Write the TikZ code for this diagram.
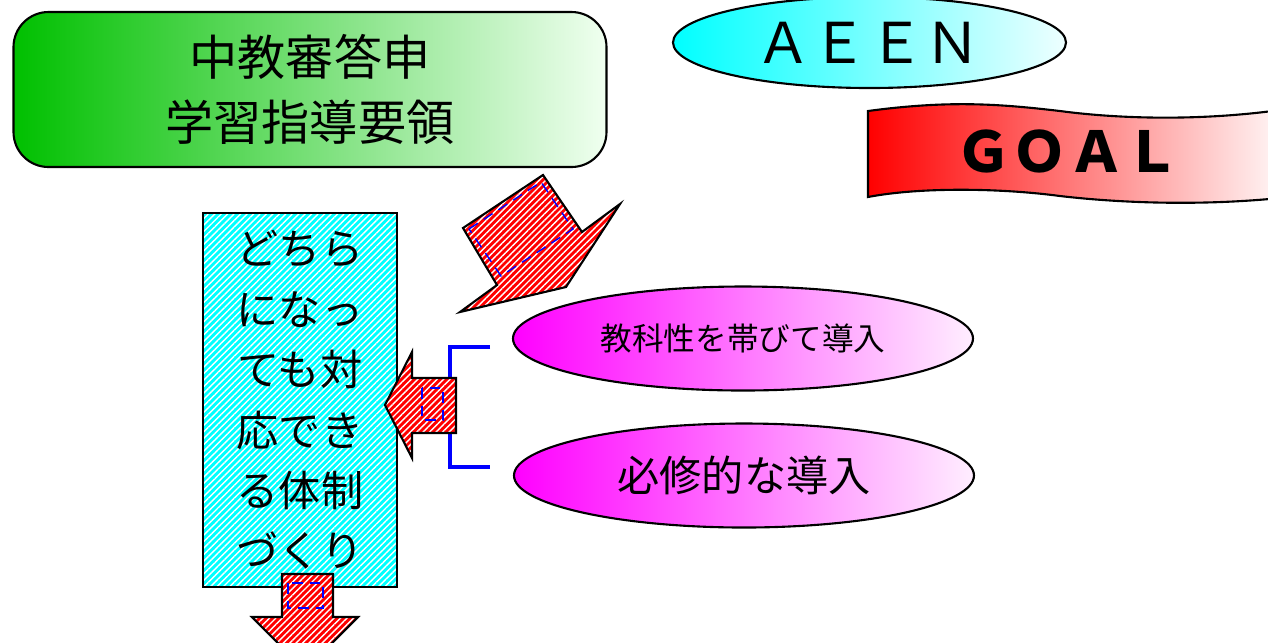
\documentclass[tikz,border=0pt]{standalone}
\usepackage{fontspec}
\newfontfamily\jpfont{Noto Sans CJK JP}
\usepackage{xcolor}
\usetikzlibrary{shapes.geometric, patterns.meta}
\definecolor{leafgreen}{RGB}{0,192,0}
\definecolor{paleleaf}{RGB}{240,255,240}
\definecolor{aqua}{RGB}{0,255,255}
\definecolor{palecyan}{RGB}{238,255,255}
\definecolor{fuchsia}{RGB}{255,0,255}
\definecolor{palepink}{RGB}{255,238,255}
\definecolor{brightred}{RGB}{255,0,0}
\definecolor{palered}{RGB}{255,246,246}
\tikzset{
  redhatch/.style={draw=black, line width=0.6pt, preaction={fill=brightred},
    pattern={Lines[angle=45, distance=1.3pt, line width=0.4pt]}, pattern color=white},
  bluebox/.style={draw=blue, densely dashed, line width=0.4pt},
  pinkegg/.style={ellipse, draw, line width=0.6pt, inner sep=0pt,
    minimum width=46mm, minimum height=10.4mm, left color=fuchsia, right color=palepink}
}

\begin{document}
\begin{tikzpicture}[x=0.1mm, y=-0.1mm]
\useasboundingbox (0,0) rectangle (1268,642);
\clip (0,0) rectangle (1268,642);
\fill[white] (0,0) rectangle (1268,642);

\node[draw, line width=0.6pt, rounded corners=3.5mm, minimum width=59.3mm, minimum height=15.5mm,
  left color=leafgreen, right color=paleleaf, align=center,
  font=\jpfont\fontsize{13.7}{18.5}\selectfont] (report) at (310,89.5) {中教審答申\\学習指導要領};

\node[ellipse, draw, line width=0.6pt, inner sep=0pt, minimum width=39.3mm, minimum height=9.1mm,
  left color=aqua, right color=palecyan] (aeen) at (869.5,42.5) {};
\node[font=\jpfont\fontsize{16}{16}\selectfont] (aeentext) at (868,43) {ＡＥＥＮ};

\shade[left color=brightred, right color=palered, draw=black, line width=0.6pt]
  (868,111) .. controls (950,100) and (1000,104) .. (1060,111)
  .. controls (1120,119) and (1200,121) .. (1280,110) -- (1280,198)
  .. controls (1200,206) and (1120,203) .. (1060,196)
  .. controls (1000,188) and (920,187) .. (868,197) -- cycle;
\node[font=\jpfont\bfseries\fontsize{16}{16}\selectfont] (goal) at (1068,151) {ＧＯＡＬ};

\node[draw, line width=0.6pt, minimum width=19.4mm, minimum height=37.4mm, preaction={fill=aqua},
  pattern={Lines[angle=45, distance=1.3pt, line width=0.4pt]}, pattern color=white,
  align=center, font=\jpfont\fontsize{12}{17.2}\selectfont] (ready) at (300,400)
  {どちら\\になっ\\ても対\\応でき\\る体制\\づくり};

\draw[redhatch] (543,175) -- (582,232) -- (620,204) -- (566,287) -- (460,312) -- (497,285) -- (463,228) -- cycle;
\draw[bluebox] (469,229) -- (541,182) -- (573,229) -- (501,276) -- cycle;

\draw[blue, line width=0.9pt] (490,347) -- (450,347) -- (450,467) -- (490,467);
\draw[redhatch] (456,378) -- (412,378) -- (412,352) -- (385,405) -- (412,458) -- (412,433) -- (456,433) -- cycle;
\draw[bluebox] (422,388) rectangle (443,420);

\draw[redhatch] (282,574) -- (333,574) -- (333,617) -- (358,617) -- (305,670) -- (252,617) -- (282,617) -- cycle;
\draw[bluebox] (288,583) rectangle (323,608);

\node[pinkegg, font=\jpfont\fontsize{9}{9}\selectfont] (subject) at (743,338.5) {教科性を帯びて導入};
\node[pinkegg, font=\jpfont\fontsize{12}{12}\selectfont] (required) at (744,475.5) {必修的な導入};
\end{tikzpicture}
\end{document}
